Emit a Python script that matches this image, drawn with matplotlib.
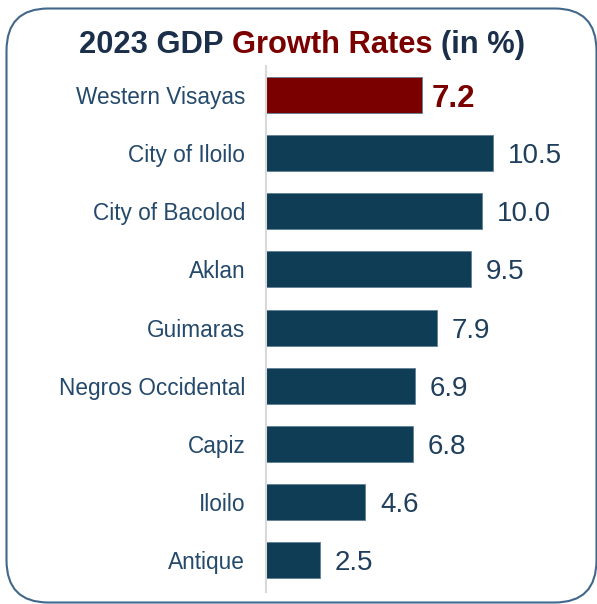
import matplotlib.pyplot as plt
from matplotlib.patches import FancyBboxPatch

# --- data ---
regions = ["Western Visayas", "City of Iloilo", "City of Bacolod", "Aklan",
           "Guimaras", "Negros Occidental", "Capiz", "Iloilo", "Antique"]
growth = [7.2, 10.5, 10.0, 9.5, 7.9, 6.9, 6.8, 4.6, 2.5]
highlight = "Western Visayas"

NAVY = "#0e3d55"
RED = "#7a0000"
LABEL = "#24496a"

plt.rcParams["font.family"] = ["Liberation Sans", "DejaVu Sans"]

W, H = 597, 604
fig = plt.figure(figsize=(W / 100, H / 100), dpi=100)

# rounded frame (right edge sits right on the image border)
frame = FancyBboxPatch((6.5 / W, 1.5 / H), 590 / W, 594 / H,
                       boxstyle="round,pad=0,rounding_size=0.07",
                       transform=fig.transFigure, facecolor="none",
                       edgecolor="#41678a", linewidth=1.5, zorder=-1)
fig.patches.append(frame)

# title, two colours, laid out piece by piece
TY = 1 - 45 / H
parts = [("2023 GDP ", "#1b2f4a"), ("Growth Rates ", RED), ("(in %)", "#1b2f4a")]
fig.canvas.draw()
r = fig.canvas.get_renderer()
texts = []
x = 0
for s, c in parts:
    t = fig.text(x, TY, s, fontsize=22.2, fontweight="bold", color=c,
                 va="center", ha="left")
    x = t.get_window_extent(r).x1 / W
    texts.append(t)
shift = 302 / W - x / 2
for t in texts:
    t.set_x(t.get_position()[0] + shift)

# axes placed so bars sit at the measured pixel rows
ax = fig.add_axes([266 / W, 1 - 592 / H, (590 - 266) / W, (592 - 66) / H])
ax.patch.set_alpha(0)
y = list(range(len(regions)))
colors = [RED if r_ == highlight else NAVY for r_ in regions]
ax.barh(y, growth, height=0.62, color=colors, edgecolor="#5f7f96",
        linewidth=0.6)
ax.set_xlim(0, 15)
ax.set_ylim(8.55, -0.5)

ax.set_yticks(y)
ax.set_yticklabels(regions, fontsize=16.3, color=LABEL)
ax.tick_params(axis="y", length=0, pad=15)
ax.set_xticks([])
for s in ["top", "right", "bottom"]:
    ax.spines[s].set_visible(False)
ax.spines["left"].set_color("#d9d9d9")
ax.spines["left"].set_linewidth(1.5)

for yi, v, reg in zip(y, growth, regions):
    if reg == highlight:
        ax.annotate(f"{v:.1f}", (v, yi), xytext=(7, 0), textcoords="offset points",
                    va="center_baseline", ha="left", fontsize=22.5,
                    fontweight="bold", color=RED)
    else:
        ax.annotate(f"{v:.1f}", (v, yi), xytext=(10.5, 0), textcoords="offset points",
                    va="center_baseline", ha="left", fontsize=20, color="#1f3f5c")

fig.savefig("out.png", dpi=100)
